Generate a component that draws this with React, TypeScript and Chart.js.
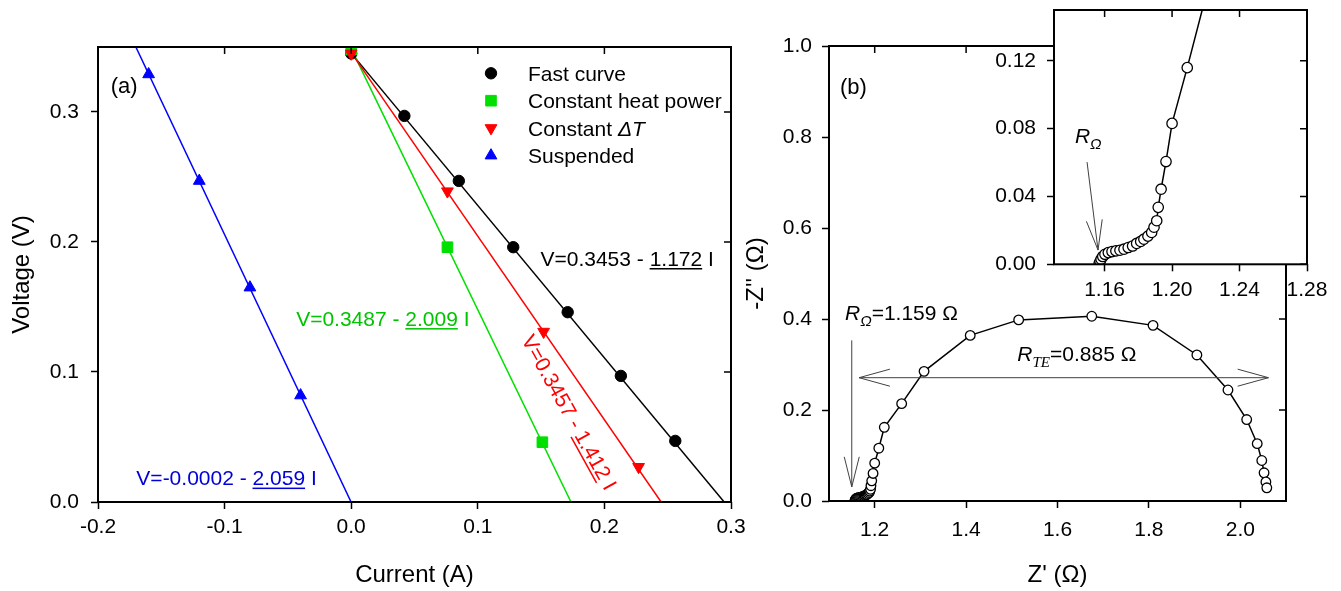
import React, { useEffect, useRef } from 'react';
import { Chart, registerables } from 'chart.js';

Chart.register(...registerables);

const SANS = '"Liberation Sans", Arial, Helvetica, sans-serif';
const SERIF = '"Liberation Serif", "Times New Roman", serif';

const BLACK = '#000000';
const GREEN = '#00e000';
const GREEN_TEXT = '#00c400';
const RED = '#ff0000';
const BLUE = '#0000ff';
const BLUE_TEXT = '#0000d8';
const ARROW = '#404040';
const TICK = 7;

// ---------------- Panel (a): voltage vs current ----------------
const currentTicks = [-0.2, -0.1, 0.0, 0.1, 0.2, 0.3];
const voltageTicks = [0.0, 0.1, 0.2, 0.3];

const fastCurrent = [0, 0.042, 0.085, 0.128, 0.171, 0.213, 0.256];
const fastVoltage = [0.345, 0.297, 0.247, 0.196, 0.146, 0.097, 0.047];
const heatCurrent = [0, 0.076, 0.151];
const heatVoltage = [0.348, 0.196, 0.046];
const dtCurrent = [0, 0.076, 0.152, 0.227];
const dtVoltage = [0.345, 0.239, 0.131, 0.027];
const suspCurrent = [-0.16, -0.12, -0.08, -0.04];
const suspVoltage = [0.329, 0.247, 0.165, 0.082];

// fitted straight lines (end points)
const fastFitCurrent = [0, 0.2946];
const fastFitVoltage = [0.3453, 0];
const heatFitCurrent = [0, 0.1736];
const heatFitVoltage = [0.3487, 0];
const dtFitCurrent = [0, 0.2448];
const dtFitVoltage = [0.3457, 0];
const suspFitCurrent = [0, -0.1701];
const suspFitVoltage = [-0.0002, 0.35];

const legendLabels = ['Fast curve', 'Constant heat power', 'Constant ', 'Suspended'];

// ---------------- Panel (b): impedance ----------------
const zReTicks = [1.2, 1.4, 1.6, 1.8, 2.0];
const zImTicks = [0.0, 0.2, 0.4, 0.6, 0.8, 1.0];
const insetReTicks = [1.16, 1.2, 1.24, 1.28];
const insetImTicks = [0.0, 0.04, 0.08, 0.12];

const zRe = [
  1.1568, 1.1573, 1.1579, 1.1589, 1.1602, 1.1622, 1.1644, 1.1667, 1.1691, 1.1715,
  1.174, 1.1766, 1.179, 1.1814, 1.1833, 1.1857, 1.1879, 1.1893, 1.1909, 1.1918,
  1.1935, 1.1964, 1.2, 1.209, 1.221, 1.259, 1.308, 1.409, 1.515, 1.675,
  1.809, 1.905, 1.973, 2.014, 2.037, 2.047, 2.052, 2.056, 2.058,
];
const zIm = [
  0.0006, 0.0016, 0.003, 0.0046, 0.0059, 0.0069, 0.0075, 0.0079, 0.0083, 0.0089,
  0.0099, 0.0108, 0.0123, 0.0135, 0.0148, 0.0166, 0.0188, 0.0219, 0.0257, 0.0336,
  0.0443, 0.0606, 0.0831, 0.116, 0.162, 0.214, 0.285, 0.364, 0.398, 0.406,
  0.386, 0.321, 0.244, 0.179, 0.126, 0.089, 0.062, 0.042, 0.029,
];

// ---------------- helpers ----------------
type Part = { t: string; italic?: boolean; sub?: boolean; ul?: boolean; serif?: boolean };

function partFont(p: Part, size: number) {
  const s = p.sub ? size * 0.72 : size;
  return `${p.italic ? 'italic ' : ''}${s}px ${p.serif ? SERIF : SANS}`;
}
function richWidth(ctx: CanvasRenderingContext2D, parts: Part[], size: number) {
  let w = 0;
  for (const p of parts) {
    ctx.font = partFont(p, size);
    w += ctx.measureText(p.t).width;
  }
  return w;
}
function drawRich(ctx: CanvasRenderingContext2D, parts: Part[], x: number, cy: number, size: number, color: string) {
  const base = cy + size * 0.358;
  ctx.fillStyle = color;
  ctx.textAlign = 'left';
  ctx.textBaseline = 'alphabetic';
  let cx = x;
  for (const p of parts) {
    ctx.font = partFont(p, size);
    const w = ctx.measureText(p.t).width;
    const by = base + (p.sub ? size * 0.3 : 0);
    ctx.fillText(p.t, cx, by);
    if (p.ul) ctx.fillRect(cx, by + 2.5, w, 1.5);
    cx += w;
  }
}
function arrowHead(ctx: CanvasRenderingContext2D, fx: number, fy: number, tx: number, ty: number, len: number, ang: number) {
  const a = Math.atan2(ty - fy, tx - fx);
  for (const s of [-1, 1]) {
    ctx.moveTo(tx, ty);
    ctx.lineTo(tx - len * Math.cos(a + s * ang), ty - len * Math.sin(a + s * ang));
  }
}
function drawMarker(ctx: CanvasRenderingContext2D, style: string, x: number, y: number, r: number, rot: number, color: string) {
  ctx.fillStyle = color;
  ctx.strokeStyle = color;
  ctx.lineWidth = 1;
  ctx.beginPath();
  if (style === 'circle') {
    ctx.arc(x, y, r, 0, Math.PI * 2);
  } else if (style === 'rect') {
    const s = r * Math.SQRT1_2;
    ctx.rect(x - s, y - s, 2 * s, 2 * s);
  } else {
    let rad = (rot * Math.PI) / 180;
    ctx.moveTo(x + Math.sin(rad) * r, y - Math.cos(rad) * r);
    rad += (2 * Math.PI) / 3;
    ctx.lineTo(x + Math.sin(rad) * r, y - Math.cos(rad) * r);
    rad += (2 * Math.PI) / 3;
    ctx.lineTo(x + Math.sin(rad) * r, y - Math.cos(rad) * r);
    ctx.closePath();
  }
  ctx.fill();
  ctx.stroke();
}

const pts = (xs: number[], ys: number[]) => xs.map((x, i) => ({ x, y: ys[i] }));
const fixTicks = (vals: number[]) => (scale: any) => {
  scale.ticks = vals.map((v) => ({ value: v }));
};
const fixSize = (prop: 'width' | 'height', v: number) => (scale: any) => {
  scale[prop] = v;
  scale.paddingTop = 0;
  scale.paddingBottom = 0;
  scale.paddingLeft = 0;
  scale.paddingRight = 0;
};

function makeAxis(opts: {
  min: number; max: number; ticks: number[]; digits: number; horizontal: boolean;
  size: number; pad: number; title?: string; titlePad?: any;
}) {
  return {
    type: 'linear',
    min: opts.min,
    max: opts.max,
    afterBuildTicks: fixTicks(opts.ticks),
    afterFit: fixSize(opts.horizontal ? 'height' : 'width', opts.size),
    grid: {
      display: true,
      drawOnChartArea: false,
      drawTicks: true,
      tickLength: TICK,
      tickWidth: 1.5,
      tickColor: BLACK,
      color: BLACK,
    },
    border: { display: false },
    ticks: {
      color: BLACK,
      font: { family: SANS, size: 21 },
      padding: opts.pad,
      autoSkip: false,
      maxRotation: 0,
      minRotation: 0,
      callback: (v: any) => Number(v).toFixed(opts.digits),
    },
    title: opts.title
      ? { display: true, text: opts.title, color: BLACK, font: { family: SANS, size: 24 }, padding: opts.titlePad }
      : { display: false },
  };
}

const framePlugin = {
  id: 'frame',
  afterDatasetsDraw(chart: any) {
    const { ctx, chartArea: a } = chart;
    const xs = chart.scales.x;
    const ys = chart.scales.y;
    ctx.save();
    ctx.strokeStyle = BLACK;
    ctx.lineWidth = 1.5;
    ctx.beginPath();
    xs.ticks.forEach((t: any) => {
      const p = xs.getPixelForValue(t.value);
      ctx.moveTo(p, a.top);
      ctx.lineTo(p, a.top + TICK);
    });
    ys.ticks.forEach((t: any) => {
      const p = ys.getPixelForValue(t.value);
      ctx.moveTo(a.right, p);
      ctx.lineTo(a.right - TICK, p);
    });
    ctx.stroke();
    ctx.lineWidth = 2;
    ctx.strokeRect(a.left, a.top, a.right - a.left, a.bottom - a.top);
    ctx.restore();
  },
};

const baseOptions = (padding: any, scales: any) => ({
  responsive: false,
  animation: false,
  devicePixelRatio: 1,
  events: [],
  layout: { padding },
  plugins: { legend: { display: false }, tooltip: { enabled: false } },
  scales,
});

// ---------------- Panel (a) config ----------------
function leftConfig(): any {
  const lineDs = (xs: number[], ys: number[], color: string, order: number) => ({
    data: pts(xs, ys), showLine: true, borderColor: color, borderWidth: 1.5, pointRadius: 0, order,
  });
  const markDs = (xs: number[], ys: number[], color: string, style: string, r: number, rot: number, order: number) => ({
    data: pts(xs, ys), showLine: false, pointStyle: style, pointRadius: r, pointRotation: rot,
    backgroundColor: color, borderColor: color, borderWidth: 1, order,
  });
  const legendRows = [
    { style: 'circle', r: 5.7, rot: 0, color: BLACK, parts: [{ t: legendLabels[0] }] },
    { style: 'rect', r: 7.5, rot: 0, color: GREEN, parts: [{ t: legendLabels[1] }] },
    { style: 'triangle', r: 6.8, rot: 180, color: RED, parts: [{ t: legendLabels[2] }, { t: '\u0394T', italic: true }] },
    { style: 'triangle', r: 6.8, rot: 0, color: BLUE, parts: [{ t: legendLabels[3] }] },
  ];
  const eqs = [
    { x: 0.1495, y: 0.1877, color: BLACK, parts: [{ t: 'V=0.3453 - ' }, { t: '1.172', ul: true }, { t: ' I' }] },
    { x: -0.0435, y: 0.1415, color: GREEN_TEXT, parts: [{ t: 'V=0.3487 - ' }, { t: '2.009', ul: true }, { t: ' I' }] },
    { x: -0.1697, y: 0.0188, color: BLUE_TEXT, parts: [{ t: 'V=-0.0002 - ' }, { t: '2.059', ul: true }, { t: ' I' }] },
  ];
  const redEq = { x: 0.1725, y: 0.0692, rot: 61, parts: [{ t: 'V=0.3457 - ' }, { t: '1.412', ul: true }, { t: ' I' }] as Part[] };
  const annotations = {
    id: 'annA',
    afterDraw(chart: any) {
      const { ctx, chartArea: a } = chart;
      const xs = chart.scales.x;
      const ys = chart.scales.y;
      ctx.save();
      drawRich(ctx, [{ t: '(a)' }], xs.getPixelForValue(-0.19), ys.getPixelForValue(0.3208), 22, BLACK);
      legendRows.forEach((row, i) => {
        const y = a.top + 26.3 + i * 27.4;
        drawMarker(ctx, row.style, a.left + 393, y, row.r, row.rot, row.color);
        drawRich(ctx, row.parts, a.left + 430, y, 21, BLACK);
      });
      eqs.forEach((e) => drawRich(ctx, e.parts, xs.getPixelForValue(e.x), ys.getPixelForValue(e.y), 21, e.color));
      ctx.translate(xs.getPixelForValue(redEq.x), ys.getPixelForValue(redEq.y));
      ctx.rotate((redEq.rot * Math.PI) / 180);
      const w = richWidth(ctx, redEq.parts, 21);
      drawRich(ctx, redEq.parts, -w / 2, 0, 21, RED);
      ctx.restore();
    },
  };
  return {
    type: 'scatter',
    data: {
      datasets: [
        markDs(suspCurrent, suspVoltage, BLUE, 'triangle', 6.8, 0, 0),
        markDs(dtCurrent, dtVoltage, RED, 'triangle', 6.8, 180, 1),
        markDs(heatCurrent, heatVoltage, GREEN, 'rect', 7.5, 0, 2),
        markDs(fastCurrent, fastVoltage, BLACK, 'circle', 5.7, 0, 3),
        lineDs(suspFitCurrent, suspFitVoltage, BLUE, 10),
        lineDs(dtFitCurrent, dtFitVoltage, RED, 11),
        lineDs(heatFitCurrent, heatFitVoltage, GREEN, 12),
        lineDs(fastFitCurrent, fastFitVoltage, BLACK, 13),
      ],
    },
    options: baseOptions({ left: 0, right: 29, top: 47, bottom: 0 }, {
      x: makeAxis({ min: -0.2, max: 0.3, ticks: currentTicks, digits: 1, horizontal: true, size: 89, pad: 6, title: 'Current (A)', titlePad: { top: 0, bottom: 1.6 } }),
      y: makeAxis({ min: 0, max: 0.35, ticks: voltageTicks, digits: 1, horizontal: false, size: 98, pad: 12, title: 'Voltage (V)', titlePad: { top: 7.6, bottom: 0 } }),
    }),
    plugins: [framePlugin, annotations],
  };
}

// ---------------- Panel (b) config ----------------
const impedanceDataset = (r: number) => ({
  data: pts(zRe, zIm),
  showLine: true,
  borderColor: BLACK,
  borderWidth: 1.5,
  pointStyle: 'circle',
  pointRadius: r,
  pointBackgroundColor: '#ffffff',
  pointBorderColor: BLACK,
  pointBorderWidth: 1.3,
});

function rightConfig(): any {
  const annotations = {
    id: 'annB',
    afterDraw(chart: any) {
      const { ctx } = chart;
      const xs = chart.scales.x;
      const ys = chart.scales.y;
      const X = (v: number) => xs.getPixelForValue(v);
      const Y = (v: number) => ys.getPixelForValue(v);
      ctx.save();
      drawRich(ctx, [{ t: '(b)' }], X(1.124), Y(0.912), 22, BLACK);
      drawRich(ctx, [{ t: 'R', italic: true }, { t: '\u03A9', italic: true, sub: true }, { t: '=1.159 \u03A9' }], X(1.135), Y(0.4145), 21, BLACK);
      drawRich(ctx, [{ t: 'R', italic: true }, { t: 'TE', italic: true, sub: true, serif: true }, { t: '=0.885 \u03A9' }], X(1.512), Y(0.3246), 21, BLACK);
      ctx.strokeStyle = ARROW;
      ctx.lineWidth = 1;
      ctx.beginPath();
      const vx = X(1.1498);
      ctx.moveTo(vx, Y(0.353));
      ctx.lineTo(vx, Y(0.031));
      arrowHead(ctx, vx, Y(0.353), vx, Y(0.031), 31, 0.245);
      const hy = Y(0.271);
      const hx1 = X(1.1658);
      const hx2 = X(2.0617);
      ctx.moveTo(hx1, hy);
      ctx.lineTo(hx2, hy);
      arrowHead(ctx, hx2, hy, hx1, hy, 32, 0.27);
      arrowHead(ctx, hx1, hy, hx2, hy, 32, 0.27);
      ctx.stroke();
      ctx.restore();
    },
  };
  return {
    type: 'scatter',
    data: { datasets: [impedanceDataset(4.8)] },
    options: baseOptions({ left: 0, right: 55, top: 46, bottom: 0 }, {
      x: makeAxis({ min: 1.1, max: 2.1, ticks: zReTicks, digits: 1, horizontal: true, size: 90, pad: 10, title: "Z' (\u03A9)", titlePad: { top: 0, bottom: 1.6 } }),
      y: makeAxis({ min: 0, max: 1.0, ticks: zImTicks, digits: 1, horizontal: false, size: 94, pad: 10, title: "-Z'' (\u03A9)", titlePad: { top: 6.6, bottom: 0 } }),
    }),
    plugins: [framePlugin, annotations],
  };
}

function insetConfig(): any {
  const background = {
    id: 'insetBg',
    beforeDraw(chart: any) {
      const { ctx, chartArea: a } = chart;
      ctx.save();
      ctx.fillStyle = '#ffffff';
      ctx.fillRect(a.left, a.top, a.right - a.left, a.bottom - a.top);
      ctx.restore();
    },
  };
  const annotations = {
    id: 'annInset',
    afterDraw(chart: any) {
      const { ctx } = chart;
      const xs = chart.scales.x;
      const ys = chart.scales.y;
      const X = (v: number) => xs.getPixelForValue(v);
      const Y = (v: number) => ys.getPixelForValue(v);
      ctx.save();
      drawRich(ctx, [{ t: 'R', italic: true }, { t: '\u03A9', italic: true, sub: true }], X(1.1424), Y(0.0762), 21, BLACK);
      ctx.strokeStyle = ARROW;
      ctx.lineWidth = 1;
      ctx.beginPath();
      const fx = X(1.1496), fy = Y(0.0603), tx = X(1.1561), ty = Y(0.0084);
      ctx.moveTo(fx, fy);
      ctx.lineTo(tx, ty);
      arrowHead(ctx, fx, fy, tx, ty, 31, 0.26);
      ctx.stroke();
      ctx.restore();
    },
  };
  return {
    type: 'scatter',
    data: { datasets: [impedanceDataset(5.2)] },
    options: baseOptions({ left: 0, right: 34, top: 10, bottom: 0 }, {
      x: makeAxis({ min: 1.13, max: 1.28, ticks: insetReTicks, digits: 2, horizontal: true, size: 45.7, pad: 6 }),
      y: makeAxis({ min: 0, max: 0.15, ticks: insetImTicks, digits: 2, horizontal: false, size: 84, pad: 11 }),
    }),
    plugins: [background, framePlugin, annotations],
  };
}

function ChartCanvas(props: { make: () => any; left: number; top: number; width: number; height: number }) {
  const ref = useRef<HTMLCanvasElement>(null);
  useEffect(() => {
    const chart = new Chart(ref.current as HTMLCanvasElement, props.make());
    return () => chart.destroy();
  }, []);
  return (
    <canvas
      ref={ref}
      width={props.width}
      height={props.height}
      style={{ position: 'absolute', left: props.left, top: props.top, width: props.width, height: props.height }}
    />
  );
}

export default function App() {
  return (
    <div style={{ position: 'fixed', left: 0, top: 0, width: 1341, height: 591, background: '#ffffff', overflow: 'hidden' }}>
      <ChartCanvas make={leftConfig} left={0} top={0} width={760} height={591} />
      <ChartCanvas make={rightConfig} left={735} top={0} width={606} height={591} />
      <ChartCanvas make={insetConfig} left={970} top={0} width={371} height={310} />
    </div>
  );
}
